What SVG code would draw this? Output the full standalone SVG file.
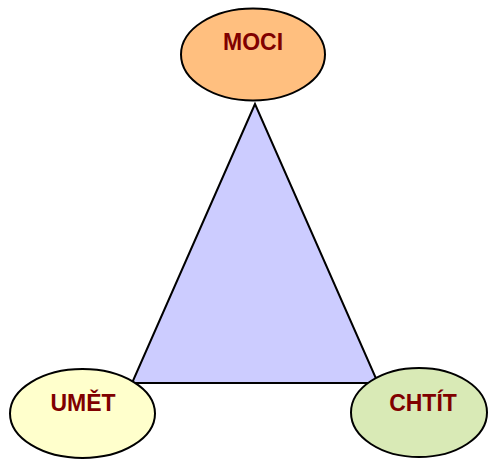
<svg xmlns="http://www.w3.org/2000/svg" width="488" height="459" viewBox="0 0 488 459">
<style>
.n{stroke:#000;stroke-width:2}
.t{font-family:"Liberation Sans",Arial,sans-serif;font-weight:bold;font-size:23px;fill:#800000;text-anchor:middle}
</style>
<rect width="488" height="459" fill="#fff"/>
<g id="connectors">
<polygon points="255,104 132,383 378,383" fill="#ccccff" stroke="#000" stroke-width="2"/>
</g>
<g id="moci">
<ellipse class="n" cx="253" cy="54.5" rx="72" ry="46" fill="#ffbf7f"/>
<text class="t" x="253" y="50">MOCI</text>
</g>
<g id="umet">
<ellipse class="n" cx="82.5" cy="413.5" rx="72.5" ry="44.5" fill="#ffffcc"/>
<text class="t" x="83" y="411">UMĚT</text>
</g>
<g id="chtit">
<ellipse class="n" cx="419" cy="412.5" rx="68" ry="44.5" fill="#d9eab6"/>
<text class="t" x="423" y="411">CHTÍT</text>
</g>
</svg>
